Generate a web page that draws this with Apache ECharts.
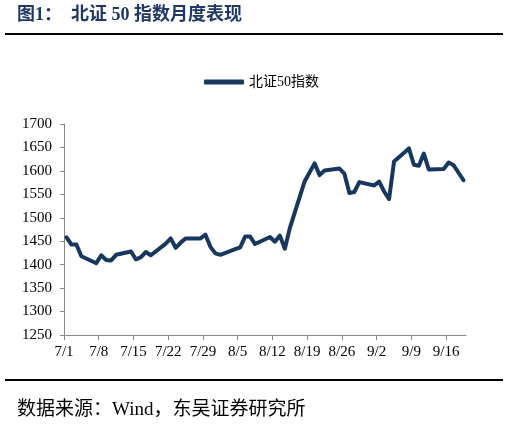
<!DOCTYPE html>
<html>
<head>
<meta charset="utf-8">
<script src="https://cdn.jsdelivr.net/npm/echarts@6/dist/echarts.min.js"></script>
<style>
  html, body { margin: 0; padding: 0; background: #fff; }
  #main { width: 509px; height: 427px; }
</style>
</head>
<body>
<div id="main"></div>
<script>
// trading days (2025) and index closes
var dates = ['7/1','7/2','7/3','7/4','7/7','7/8','7/9','7/10','7/11',
  '7/14','7/15','7/16','7/17','7/18','7/21','7/22','7/23','7/24','7/25',
  '7/28','7/29','7/30','7/31','8/1','8/4','8/5','8/6','8/7','8/8',
  '8/11','8/12','8/13','8/14','8/15','8/18','8/19','8/20','8/21','8/22',
  '8/25','8/26','8/27','8/28','8/29','9/1','9/2','9/3','9/4','9/5',
  '9/8','9/9','9/10','9/11','9/12','9/15','9/16','9/17','9/18','9/19'];
var bz50 = [1458,1443,1443,1418,1403,1420,1410,1409,1421,
  1428,1411,1416,1427,1420,1445,1456,1436,1447,1456,
  1456,1464,1438,1424,1421,1433,1437,1460,1460,1444,
  1459,1449,1462,1434,1478,1578,1597,1616,1591,1601,
  1605,1594,1553,1555,1576,1569,1577,1556,1540,1620,
  1648,1613,1611,1637,1603,1604,1618,1612,1596,1580];
var xTickLabels = ['7/1','7/8','7/15','7/22','7/29','8/5','8/12','8/19','8/26','9/2','9/9','9/16'];
var seriesName = '北证50指数';

function dayIndex(md) {
    var p = md.split('/');
    return (Date.UTC(2025, +p[0] - 1, +p[1]) - Date.UTC(2025, 6, 1)) / 86400000;
}

var lineData = [];
for (var i = 0; i < dates.length; i++) {
    // each day owns a slot, the point sits in the middle of it
    lineData.push([dayIndex(dates[i]) + 0.5, bz50[i]]);
}
var tickPos = xTickLabels.map(dayIndex);
var xMax = dayIndex(dates[dates.length - 1]) + 1;

var myChart = echarts.init(document.getElementById('main'));
var serif = '"Liberation Serif", "Noto Sans CJK SC", serif';

var option = {
    animation: false,
    backgroundColor: '#fff',
    title: {
        text: '图1：  北证 50 指数月度表现',
        left: 17,
        top: 6,
        padding: 0,
        textStyle: {
            color: '#1f3864',
            fontSize: 18,
            fontWeight: 'bold',
            fontFamily: serif
        }
    },
    legend: {
        data: [seriesName],
        left: 204,
        top: 75,
        padding: 0,
        icon: 'roundRect',
        itemWidth: 40,
        itemHeight: 5,
        itemGap: 4,
        textStyle: { color: '#000', fontSize: 14, fontFamily: serif }
    },
    grid: { left: 64, right: 43, top: 124, bottom: 92 },
    xAxis: {
        type: 'value',
        min: 0,
        max: xMax,
        interval: 7,
        axisLine: { lineStyle: { color: '#888', width: 1 } },
        axisTick: { show: true, length: 5, customValues: tickPos, lineStyle: { color: '#888' } },
        axisLabel: {
            customValues: tickPos,
            margin: 10,
            color: '#000',
            fontSize: 15,
            fontFamily: serif,
            formatter: function (v) {
                var k = tickPos.indexOf(v);
                return k >= 0 ? xTickLabels[k] : '';
            }
        },
        splitLine: { show: false }
    },
    yAxis: {
        type: 'value',
        min: 1250,
        max: 1700,
        interval: 50,
        axisLine: { show: true, lineStyle: { color: '#888', width: 1 } },
        axisTick: { show: true, length: 4, lineStyle: { color: '#888' } },
        axisLabel: {
            margin: 12,
            color: '#000',
            fontSize: 15,
            fontFamily: serif,
            formatter: function (v) { return String(v); }
        },
        splitLine: { show: false }
    },
    series: [{
        name: seriesName,
        type: 'line',
        data: lineData,
        symbol: 'none',
        smooth: false,
        color: '#17375e',
        lineStyle: { width: 4, color: '#17375e', join: 'round', cap: 'round' }
    }],
    graphic: [
        {
            type: 'line',
            shape: { x1: 5, y1: 34, x2: 503, y2: 34 },
            style: { stroke: '#000', lineWidth: 2 }
        },
        {
            type: 'line',
            shape: { x1: 5, y1: 380, x2: 503, y2: 380 },
            style: { stroke: '#000', lineWidth: 2 }
        },
        {
            type: 'text',
            left: 17,
            top: 401,
            style: {
                text: '数据来源：Wind，东吴证券研究所',
                fill: '#000',
                fontSize: 19,
                fontFamily: serif
            }
        }
    ]
};
myChart.setOption(option);
window.onresize = myChart.resize;
</script>
</body>
</html>
